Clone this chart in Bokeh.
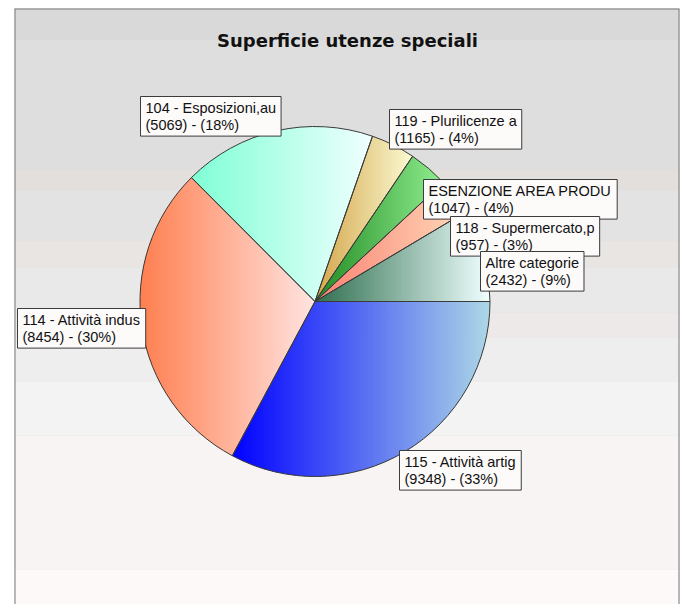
import numpy as np
from bokeh.plotting import figure
from bokeh.models import Range1d, Label, ColumnDataSource, Span
from bokeh.embed import file_html
from bokeh.resources import INLINE

# ---------------- data ----------------
categories = ["115 - Attività artig", "114 - Attività indus", "104 - Esposizioni,au",
              "119 - Plurilicenze a", "ESENZIONE AREA PRODU", "118 - Supermercato,p",
              "Altre categorie"]
values = [9348, 8454, 5069, 1165, 1047, 957, 2432]
title_text = "Superficie utenze speciali"

# ---------------- style / layout ----------------
colors_dark = ["#0000ff", "#ff7f50", "#7fffd4", "#d4a54a", "#228b22", "#fa8072", "#2f6f4f"]
colors_light = ["#add8e6", "#ffe4e1", "#f0ffff", "#fafad2", "#90ee90", "#ffdab9", "#f0ffff"]
label_pos = [(399, 450), (17, 308), (140, 96), (389, 109), (423, 179), (450, 216), (480, 251)]
band_edges = [8, 40, 169, 190, 240, 267, 312, 337, 381, 435, 569, 604]
band_colors = ["#d9d9d9", "#dedede", "#e2dfdd", "#e3e3e3", "#e8e5e3", "#e9e9e9",
               "#ede9e8", "#eeeeee", "#f3f3f3", "#f7f4f3", "#fdf9f8"]
CX, CY, R = 314.5, -301.0, 175.0

p = figure(width=681, height=604, x_range=Range1d(14, 679), y_range=Range1d(-604, -8),
           output_backend="svg", toolbar_location=None,
           x_axis_location=None, y_axis_location=None,
           min_border_left=14, min_border_right=2, min_border_top=8, min_border_bottom=0)
p.grid.visible = False
p.border_fill_color = "white"
p.background_fill_color = "#dedede"
p.outline_line_color = None

# background bands
p.quad(left=14, right=679,
       top=[-e for e in band_edges[:-1]], bottom=[-e for e in band_edges[1:]],
       fill_color=band_colors, line_color=None)

# frame border (left, right, top; the bottom runs off the page)
for loc, dim in [(14, "height"), (679, "height"), (-8, "width")]:
    p.add_layout(Span(location=loc, dimension=dim, line_color="#7a7a7a", line_width=2))

# ---------------- pie geometry ----------------
total = float(sum(values))
frac = np.array(values) / total
cum = np.concatenate([[0.0], np.cumsum(frac)])
starts = -2 * np.pi * cum[:-1]
ends = -2 * np.pi * cum[1:]


def hex2rgb(h):
    h = h.lstrip("#")
    return np.array([int(h[i:i + 2], 16) for i in (0, 2, 4)], dtype=float)


def rgb2hex(c):
    c = np.clip(np.round(c), 0, 255).astype(int)
    return "#%02x%02x%02x" % tuple(c)


def clip_half(pts, keep, cval):
    out = []
    n = len(pts)
    for i in range(n):
        cur = pts[i]
        prev = pts[i - 1]
        cin, pin = keep(cur[0]), keep(prev[0])
        if cin:
            if not pin:
                t = (cval - prev[0]) / (cur[0] - prev[0])
                out.append((cval, prev[1] + t * (cur[1] - prev[1])))
            out.append(cur)
        elif pin:
            t = (cval - prev[0]) / (cur[0] - prev[0])
            out.append((cval, prev[1] + t * (cur[1] - prev[1])))
    return out


xs_all, ys_all, cols_all = [], [], []
for k in range(len(values)):
    a0, a1 = starts[k], ends[k]
    npts = max(8, int(abs(a1 - a0) * 120))
    ts = np.linspace(a0, a1, npts)
    poly = [(CX, CY)] + [(CX + R * np.cos(t), CY + R * np.sin(t)) for t in ts]
    pxs = [q[0] for q in poly]
    xmin, xmax = min(pxs), max(pxs)
    nstr = int(np.ceil((xmax - xmin) / 2.0))
    w = (xmax - xmin) / nstr
    c0, c1 = hex2rgb(colors_dark[k]), hex2rgb(colors_light[k])
    for i in range(nstr):
        xa = xmin + i * w
        xb = xa + w + 0.8
        part = clip_half(poly, lambda x, xa=xa: x >= xa, xa)
        if len(part) < 3:
            continue
        part = clip_half(part, lambda x, xb=xb: x <= xb, xb)
        if len(part) < 3:
            continue
        tt = (i + 0.5) / nstr
        xs_all.append([q[0] for q in part])
        ys_all.append([q[1] for q in part])
        cols_all.append(rgb2hex(c0 + (c1 - c0) * tt))

p.patches(xs=xs_all, ys=ys_all, fill_color=cols_all, line_color=None)

src = ColumnDataSource(dict(start=starts, end=ends, cat=categories, val=values))
p.wedge(x=CX, y=CY, radius=R, start_angle="start", end_angle="end", direction="clock",
        fill_color=None, line_color="#3a3a3a", line_width=1, source=src)

# ---------------- labels ----------------
for k, (cat, v) in enumerate(zip(categories, values)):
    pct = int(round(v / total * 100))
    lx, ly = label_pos[k]
    p.add_layout(Label(x=lx, y=-ly, text=f"{cat}\n({v}) - ({pct}%)", anchor="top_left",
                       text_font="Liberation Sans", text_font_size="14.5px", text_color="#111111",
                       text_line_height=1.1,
                       background_fill_color="#fdfafa", border_line_color="#3c3c3c",
                       border_line_width=1, padding=(5, 3)))

p.add_layout(Label(x=347, y=-40, text=title_text, text_align="center", text_baseline="middle",
                   text_font="DejaVu Sans", text_font_style="bold", text_font_size="18px",
                   text_color="#111111"))

open("out.html", "w").write(file_html(p, INLINE))
